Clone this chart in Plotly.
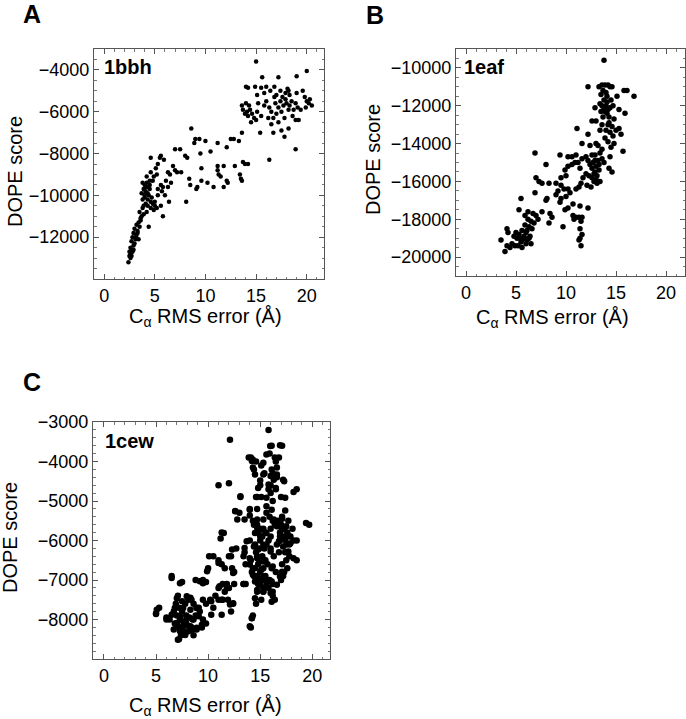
import plotly.graph_objects as go

# ---------------- Panel A: 1bbh ----------------
A_x = [15.0, 20.0, 15.6, 17.2, 19.0, 14.0, 14.2, 14.9, 15.5, 16.0, 16.8, 17.4, 18.1, 18.2, 19.6,
       15.1, 15.8, 16.4, 16.8, 17.0, 17.6, 17.9, 18.3, 19.0, 19.8, 20.3, 20.0,
       13.6, 13.7, 14.0, 14.3, 14.4, 13.9, 14.2, 14.6, 14.8, 14.5, 15.0, 14.1,
       15.2, 15.8, 16.0, 16.3, 16.5, 16.9, 17.2, 17.4, 17.7, 17.9, 18.0, 18.3, 18.5, 18.7, 18.9,
       19.1, 19.4, 19.9, 20.5, 20.2, 18.2, 17.5, 16.7, 16.2, 17.8, 18.9, 19.2, 17.2, 16.5, 18.2,
       17.5, 16.7, 15.4, 17.8, 18.9, 16.3, 15.5, 15.1, 17.0, 18.6,
       8.6, 9.0, 9.4, 8.9, 10.0, 11.2, 12.1, 12.5, 12.8, 13.3, 13.6, 7.0, 7.5, 8.0, 8.2, 9.5,
       10.5, 13.7, 14.2, 13.9, 11.2, 11.8, 12.9, 9.6, 11.3, 11.5, 11.2, 13.4, 13.5, 13.6, 12.1,
       12.2, 9.6, 10.2, 8.4, 8.5, 9.2, 9.1, 10.8, 11.8, 8.1, 7.6, 7.2, 6.8, 6.3, 6.5, 6.1, 5.8,
       6.3, 6.6, 6.0, 5.7, 6.4, 7.0, 5.9, 5.6, 5.3, 5.1, 5.5, 5.2, 5.6, 5.3, 5.6, 5.8, 4.6, 4.6,
       4.8, 4.2, 4.5,
       3.8, 4.0, 4.2, 3.9, 4.1, 4.3, 3.7, 4.5, 4.4, 4.0, 3.8, 4.6, 4.8, 5.0, 4.3, 4.9, 5.2, 4.6,
       4.2, 3.9, 3.7, 3.6, 3.4, 3.2, 3.0, 3.3, 2.9, 2.8, 3.1, 2.7, 2.9, 2.6, 2.5, 2.8, 2.5, 2.6,
       2.4, 3.4, 3.0, 2.7, 3.3, 4.4, 4.1, 4.7, 3.5, 3.9, 4.0, 4.2, 4.5, 5.3, 5.0, 4.9,
       2.6, 2.7, 2.9, 3.1, 3.6, 3.8, 4.1, 4.3, 3.5, 3.2]
A_y = [-3600, -4050, -4350, -4350, -4300, -4800, -4850, -4800, -4850, -4800, -4800, -5000, -4900, -5000, -5000,
       -5200, -5100, -5000, -5300, -5200, -5300, -5100, -5200, -5100, -5300, -5400, -5500,
       -5700, -5900, -5600, -5700, -5900, -6100, -6200, -6100, -6300, -6500, -6400, -6000,
       -5600, -5700, -5500, -5800, -6000, -5600, -5800, -5500, -5700, -5400, -5600, -5700, -5500, -5900, -5600,
       -5800, -5900, -5800, -5700, -5600, -5900, -6000, -6300, -6300, -6300, -6400, -6400, -6500, -6600, -6800,
       -6900, -7000, -7000, -7200, -7800, -8300, -6200, -6000, -6100, -6200,
       -6800, -7300, -7300, -7500, -7400, -7500, -7700, -7300, -7300, -7400, -7000, -7800, -7800, -8100, -8200, -8000,
       -7900, -8400, -8500, -8500, -8600, -8600, -8600, -8700, -9000, -9100, -8800, -9000, -9200, -9300, -9300,
       -9400, -9300, -9400, -9200, -9500, -9600, -9700, -9600, -9600, -10300, -8900, -8900, -8600, -8900, -9000, -9300, -9600,
       -9600, -9400, -10000, -9800, -10300, -8800, -8300, -8100, -8500, -8700, -8200, -9000, -9500, -10000, -10500, -11000, -8200, -8900,
       -9300, -9100, -9500,
       -9400, -9500, -9600, -9700, -9800, -9900, -9900, -9700, -10000, -10100, -10200, -10300, -10400, -10500, -10500, -10700, -10600, -10600,
       -10800, -10900, -11000, -11200, -11300, -11400, -11600, -11700, -11800, -12000, -12100, -12200, -12400, -12500, -12700, -12700, -12900, -13000,
       -13200, -12100, -12300, -12600, -11800, -11500, -10400, -10100, -10800, -10500, -10000, -9400, -9300, -9700, -10300, -9100,
       -12800, -12900, -12600, -12000, -11100, -10600, -9900, -10200, -11500, -11900]

# ---------------- Panel B: 1eaf ----------------
B_x = [13.8,
       12.2, 13.3, 13.6, 13.9, 14.2, 14.4, 14.6, 15.8, 16.1, 16.8, 13.7, 14.0, 14.1, 13.8, 15.1, 14.5,
       13.4, 13.6, 13.8, 14.0, 14.2, 14.4, 14.7, 13.5, 14.1, 15.3, 15.9, 12.9, 13.7, 14.3, 14.8, 12.6,
       13.0, 13.6, 14.2, 14.6, 13.4, 14.0, 14.4, 15.0, 15.3, 14.7, 13.9, 14.2, 14.8, 15.5, 15.7, 13.2, 14.5,
       11.1, 12.2, 11.6, 12.4, 13.0, 10.2, 10.6, 11.0, 10.9, 11.6, 12.0, 12.2, 12.6, 12.9, 12.4, 12.7,
       13.0, 13.2, 13.4, 13.6, 13.8, 14.3, 14.6, 14.4, 12.6, 12.9, 13.3, 12.3, 12.6, 13.0, 12.8, 13.4,
       12.1, 11.7, 11.5, 12.5, 11.2, 11.4, 12.0, 13.1, 13.6,
       6.9, 8.0, 9.4, 10.2, 10.6, 9.9, 9.5, 10.0, 9.0, 9.5, 8.3, 7.0, 7.3, 7.6, 9.2, 9.8, 10.2, 9.0,
       9.5, 10.0, 10.4, 11.0, 11.3, 9.4, 8.0, 8.1, 10.7, 10.2, 9.9, 11.4, 10.7, 11.0, 10.8, 11.3, 11.6,
       11.5, 11.4, 11.6, 11.4, 11.3, 11.5, 9.7, 12.2, 8.4, 8.3, 8.6, 7.6, 6.9, 5.5,
       6.7, 7.0, 7.2, 6.5, 6.2, 6.8, 6.3, 6.6, 5.9, 6.0, 5.6, 5.3, 5.0, 4.8, 5.4, 5.8, 6.1, 5.6, 6.4,
       4.6, 4.9, 5.2, 4.4, 4.1, 3.9, 3.5, 5.6, 6.0, 6.3, 4.1, 4.2, 5.3, 5.9, 6.2, 5.1, 6.5,
       13.9, 14.3, 13.5, 14.1, 12.8, 13.3, 12.9, 13.1, 5.8, 5.5, 6.1]
B_y = [-9600,
       -11000, -11000, -10900, -10900, -10900, -11000, -11000, -11200, -11200, -11500, -11200, -11300, -11500, -11700, -11500, -11700,
       -11900, -12000, -12100, -12000, -12200, -12100, -12000, -12300, -12400, -12200, -12400, -12100, -12600, -12600, -12700, -12800,
       -12800, -13000, -13000, -13100, -13300, -13300, -13400, -13300, -13200, -13600, -13700, -13900, -14000, -13500, -14400, -14100, -14200,
       -13200, -13500, -14000, -14100, -14000, -14700, -14700, -14600, -15000, -14800, -14700, -14900, -14600, -14600, -15100, -15000,
       -15200, -14900, -14500, -14800, -15000, -15300, -15500, -14700, -15300, -15500, -15400, -15700, -15800, -15900, -16000, -16000,
       -16200, -15800, -16100, -16300, -15000, -15300, -15600, -15700, -14300,
       -14500, -15100, -14600, -15200, -15100, -15400, -15800, -15700, -16100, -16200, -16100, -15800, -16000, -16100, -16500, -16400, -16400, -16700,
       -16900, -16800, -16600, -16400, -16300, -17100, -17000, -16900, -17200, -17400, -17500, -17300, -17800, -17900, -18000, -17900, -17900,
       -18100, -18500, -18800, -19000, -19100, -19400, -18400, -17400, -17700, -18200, -17900, -17600, -16600, -16900,
       -17700, -17800, -18000, -18100, -18000, -18200, -18400, -18500, -18300, -18700, -18600, -18800, -18700, -18900, -19000, -19000, -19100, -19100, -18900,
       -19300, -19400, -19400, -19500, -19400, -19700, -19100, -19500, -19300, -19000, -18500, -18700, -17500, -17800, -17600, -19000, -19300,
       -12300, -12900, -11400, -11800, -15600, -15100, -14900, -16100, -18900, -19200, -18600]

# ---------------- Panel C: 1cew ----------------
C_x = [15.8, 12.1, 15.9, 16.1, 17.1, 16.8, 14.1, 14.3, 14.6, 15.1, 16.1, 16.5, 14.4, 15.4, 16.6, 16.2,
       17.3, 16.0, 11.0, 12.0, 15.0, 15.8, 16.5, 18.5, 13.1, 14.6, 15.1, 16.2, 17.0, 14.7, 13.0, 12.6,
       14.0, 15.6, 15.9, 16.2, 17.1, 16.7, 14.3, 19.7, 14.7, 15.0, 15.3, 15.5, 14.8, 16.0, 16.4, 17.0,
       17.3, 17.6, 18.1, 17.9, 17.2, 16.9, 17.5, 17.8, 18.2, 18.5, 11.3, 11.2, 14.0, 14.5, 15.0, 15.4,
       14.6, 15.2, 16.0, 16.3, 17.4, 17.8, 18.5, 13.5, 14.1, 13.6, 14.3, 14.8, 15.3, 16.1, 16.5, 17.3,
       17.6, 15.0, 14.6, 15.4, 14.8, 15.9, 16.2, 17.0, 17.2, 14.7, 15.3, 15.8, 16.2, 14.6, 16.4, 16.2,
       15.1, 14.3, 14.1, 12.7, 12.2, 10.5, 11.0, 11.3, 11.6, 12.3, 12.5, 10.0, 8.8, 9.5, 9.8, 7.5,
       6.5, 11.4, 11.8, 11.0, 11.6, 12.0, 12.5, 10.7, 11.4, 11.9, 12.4, 13.6, 10.2, 10.5, 12.2, 9.8, 11.0,
       5.0, 5.3, 6.0, 6.3, 6.7, 6.9, 7.1, 7.2, 7.5, 7.8, 8.1, 8.3, 8.6, 8.9, 7.0, 7.3, 7.6, 7.9,
       8.2, 8.5, 8.8, 9.2, 9.5, 9.8, 9.4, 8.9, 8.4, 8.0, 7.6, 7.3, 7.0, 6.8, 7.4, 7.8, 7.2, 8.1,
       6.7, 7.9, 8.6, 9.1,
       15.2, 15.6, 14.9, 15.7, 16.6, 17.5, 14.4, 15.5, 16.8, 17.7, 15.2, 14.9, 16.0, 15.5, 14.2, 16.9,
       17.1, 15.3, 15.8, 14.7,
       15.96, 16.9, 15.6, 16.4, 13.9, 14.2, 15.3, 14.3, 16.6, 14.5, 15.3, 16.0, 16.6, 15.0, 16.3, 17.2,
       14.8, 15.8, 16.0, 16.5, 13.1, 14.7, 15.6, 17.4, 18.2, 15.6, 16.1, 14.0, 12.6, 17.4, 12.8, 13.5,
       14.0, 14.7, 15.3, 16.3, 17.1, 19.4, 14.4, 14.7, 15.1, 14.5, 15.0, 15.6, 16.6, 17.1, 17.5, 16.9,
       17.7, 17.4, 17.9, 16.8, 17.2, 17.7, 18.2, 13.7, 13.5, 14.4, 14.8, 15.3, 16.0, 13.4, 14.0, 14.7,
       15.3, 14.0, 14.5, 15.1, 16.2, 17.1, 14.3, 14.8, 15.3, 16.9, 17.2, 14.5, 15.0, 15.6, 16.1, 16.6,
       13.4, 14.7, 15.3, 16.0, 14.5, 16.1, 12.4, 14.2,
       5.07, 5.0, 6.0, 6.5, 7.0, 7.5, 7.95, 8.4, 6.8, 7.6, 8.3, 8.9, 9.1, 7.3, 7.95, 8.6, 9.4, 7.0,
       7.6, 8.3, 8.9, 7.3, 7.8, 7.1, 8.4, 6.5, 7.3, 9.2, 9.5, 9.9, 9.5, 10.3, 11.1, 11.8, 11.3, 12.1,
       10.3, 11.3, 10.1, 11.0, 11.5, 12.0, 12.4, 12.3, 14.0, 14.2, 13.4]
C_y = [-3200, -3450, -3800, -3600, -3600, -3900, -3900, -3950, -4000, -4100, -4200, -4000, -4200, -4300, -4400, -4300,
       -4500, -4600, -4600, -4550, -4600, -4700, -4700, -4700, -4900, -4900, -4900, -5000, -4900, -5200, -5300, -5250,
       -5200, -5300, -5400, -5500, -5400, -5500, -5500, -5600, -5600, -5700, -5700, -5800, -5800, -5700, -5600, -5600,
       -5700, -5800, -5700, -5900, -5900, -6000, -6100, -6100, -6000, -6000, -5800, -5950, -6000, -6100, -6000, -6200,
       -6300, -6400, -6200, -6400, -6300, -6400, -6500, -6300, -6500, -6600, -6700, -6600, -6700, -6700, -6800, -6800,
       -6700, -6800, -6900, -7000, -7100, -7000, -7100, -7000, -6900, -7300, -7200, -7200, -7300, -7600, -7500, -7400,
       -7500, -7900, -8200, -6200, -6400, -6400, -6500, -6600, -6700, -6700, -6800, -6700, -7000, -7000, -7050, -7050,
       -6900, -7100, -7100, -7200, -7300, -7200, -7100, -7400, -7500, -7500, -7600, -7100, -7500, -7700, -7800, -7600, -7500,
       -7850, -7700, -7950, -8000, -7800, -7600, -7400, -7700, -7800, -7600, -7500, -7450, -7600, -7700, -7900, -8000, -8050, -7900,
       -7950, -8000, -7900, -7800, -8000, -8100, -8200, -8250, -8200, -8150, -8300, -8200, -8150, -8100, -8400, -8350, -8500, -8300,
       -8250, -8100, -8400, -7700,
       -5900, -6100, -6500, -6600, -6100, -6500, -6900, -6900, -6300, -5500, -7000, -6200, -5900, -6500, -6800, -5800,
       -6600, -7300, -6000, -6400,
       -3610, -3590, -3820, -3900, -3900, -3990, -4030, -4150, -4150, -4330, -4330, -4370, -4330, -4480, -4460, -4460,
       -4670, -4580, -4800, -4670, -4880, -4900, -4920, -4920, -4770, -5130, -5220, -5220, -5260, -5240, -5470, -5470,
       -5370, -5470, -5470, -5470, -5450, -5560, -5600, -5680, -5720, -5810, -5890, -5810, -5640, -5720, -5640, -5890,
       -5890, -5980, -6070, -6020, -6150, -6280, -6450, -6020, -6190, -6150, -6230, -6110, -6280, -6400, -6450, -6450,
       -6530, -6610, -6700, -6740, -6660, -6790, -6870, -6950, -6910, -6910, -6830, -7040, -7120, -7120, -7040, -7120,
       -7100, -7250, -7290, -7330, -7460, -7550, -7590, -7970,
       -7750, -7860, -8000, -7880, -7460, -7540, -7410, -7500, -7710, -7710, -7750, -7710, -7920, -7920, -7960, -8000, -8130, -8090,
       -8170, -8170, -8210, -8300, -8390, -8510, -8260, -6950, -7080, -7030, -7080, -6780, -7500, -7540, -7160, -7200, -7500, -7620,
       -7880, -7880, -6400, -6570, -5810, -6400, -6820, -6230, -8170, -7960, -7100]

# ---------------- Ticks / labels ----------------
x_ticks = [0, 5, 10, 15, 20]
x_ticktext = ["0", "5", "10", "15", "20"]
A_yticks = [-12000, -10000, -8000, -6000, -4000]
B_yticks = [-20000, -18000, -16000, -14000, -12000, -10000]
C_yticks = [-8000, -7000, -6000, -5000, -4000, -3000]
panel_letters = ["A", "B", "C"]
pdb_names = ["1bbh", "1eaf", "1cew"]
x_title = "C<sub>\u03b1</sub> RMS error (\u00c5)"
y_title = "DOPE score"


def ylab(v):
    return "\u2212" + str(abs(v))


W, H = 686, 719
FONT = "Liberation Sans, Arial, Helvetica, sans-serif"


def dx(p0, p1):
    return [p0 / W, p1 / W]


def dy(top, bottom):
    return [1 - bottom / H, 1 - top / H]


fig = go.Figure()
fig.add_trace(go.Scatter(x=A_x, y=A_y, mode="markers", xaxis="x", yaxis="y",
                         marker=dict(color="black", size=4.5), showlegend=False))
fig.add_trace(go.Scatter(x=B_x, y=B_y, mode="markers", xaxis="x2", yaxis="y2",
                         marker=dict(color="black", size=5.5), showlegend=False))
fig.add_trace(go.Scatter(x=C_x, y=C_y, mode="markers", xaxis="x3", yaxis="y3",
                         marker=dict(color="black", size=6.5), showlegend=False))

common = dict(showgrid=False, zeroline=False, showline=True, linecolor="#555", linewidth=1,
              mirror="ticks", ticks="inside", ticklen=5, tickcolor="#555", tickwidth=1,
              automargin=False, ticklabelstandoff=0,
              tickfont=dict(family=FONT, size=18, color="black"))


def xax(domain, rng, anchor):
    d = dict(common)
    d.update(domain=domain, range=rng, anchor=anchor, tickvals=x_ticks, ticktext=x_ticktext,
             minor=dict(dtick=1, ticks="inside", ticklen=2.5, tickcolor="#777"))
    return d


def yax(domain, rng, anchor, ticks, mdt):
    d = dict(common)
    d.update(domain=domain, range=rng, anchor=anchor, tickvals=ticks,
             ticktext=[ylab(v) for v in ticks],
             minor=dict(dtick=mdt, ticks="inside", ticklen=2.5, tickcolor="#777"))
    return d


layout = dict(
    template="none",
    width=W, height=H, margin=dict(l=0, r=0, t=0, b=0, autoexpand=False),
    paper_bgcolor="white", plot_bgcolor="white",
    font=dict(family=FONT, color="black"),
    xaxis=xax(dx(94, 324), [-1.0, 21.7], "y"),
    yaxis=yax(dy(49, 279), [-14000, -3000], "x", A_yticks, 500),
    xaxis2=xax(dx(456, 685), [-1.0, 21.9], "y2"),
    yaxis2=yax(dy(49, 276), [-21000, -9000], "x2", B_yticks, 500),
    xaxis3=xax(dx(93, 330), [-1.05, 21.7], "y3"),
    yaxis3=yax(dy(422, 659), [-9000, -3000], "x3", C_yticks, 200),
)
fig.update_layout(**layout)

ann = []
for lab, (x, y) in zip(panel_letters, [(32, 14), (375, 15), (32, 382)]):
    ann.append(dict(text="<b>%s</b>" % lab, x=x / W, y=1 - y / H, xref="paper", yref="paper",
                    showarrow=False, font=dict(family=FONT, size=25, color="black"),
                    xanchor="center", yanchor="middle"))
for nm, (x, y) in zip(pdb_names, [(102, 67), (462, 67), (103, 441)]):
    ann.append(dict(text="<b>%s</b>" % nm, x=x / W, y=1 - y / H, xref="paper", yref="paper",
                    showarrow=False, font=dict(family=FONT, size=20, color="black"),
                    xanchor="left", yanchor="middle"))
for (x, y) in [(206, 317), (552, 318), (206, 706)]:
    ann.append(dict(text=x_title, x=x / W, y=1 - y / H, xref="paper", yref="paper",
                    showarrow=False, font=dict(family=FONT, size=20, color="black"),
                    xanchor="center", yanchor="middle"))
for (x, y) in [(15, 172), (373, 160), (10, 538)]:
    ann.append(dict(text=y_title, x=x / W, y=1 - y / H, xref="paper", yref="paper",
                    showarrow=False, textangle=-90, font=dict(family=FONT, size=20, color="black"),
                    xanchor="center", yanchor="middle"))
fig.update_layout(annotations=ann)

fig.write_html("out.html", config={"displayModeBar": False},
               post_script="document.body.style.margin='0';document.body.style.padding='0';")
